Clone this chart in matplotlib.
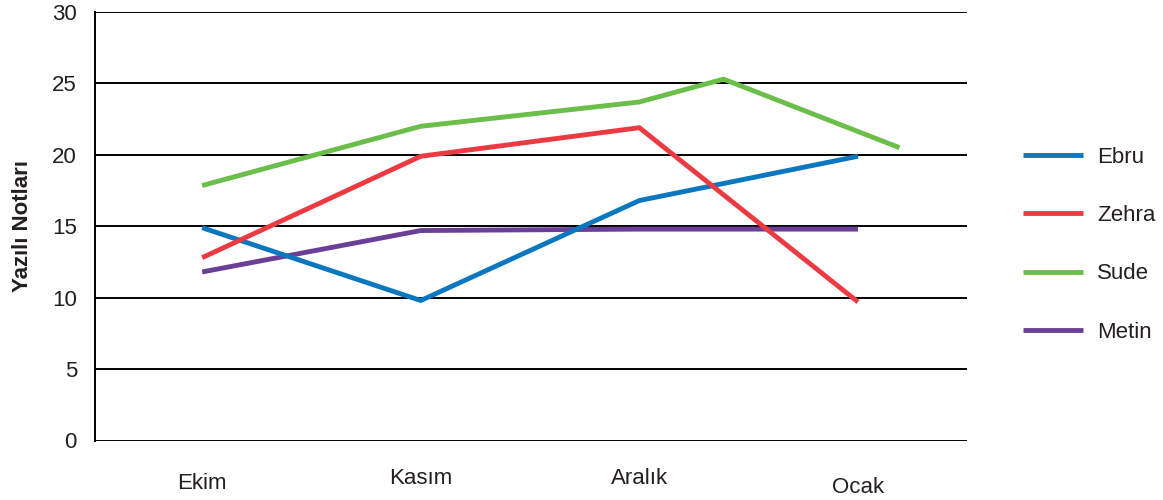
import matplotlib.pyplot as plt

months = ['Ekim', 'Kasım', 'Aralık', 'Ocak']
month_x = [0, 1, 2, 3]

ebru = [14.9, 9.8, 16.8, 19.9]
zehra = [12.8, 19.9, 21.9, 9.7]
sude_x = [0, 1, 2, 2.385, 3.19]
sude = [17.85, 22.0, 23.7, 25.3, 20.5]
metin = [11.8, 14.7, 14.8, 14.8]

yticks = [0, 5, 10, 15, 20, 25, 30]

plt.rcParams['font.family'] = ['Liberation Sans', 'DejaVu Sans']

fig = plt.figure(figsize=(11.63, 5), dpi=100)
ax = fig.add_axes([0.0817, 0.119, 0.75, 0.857])

lw = 3.5
ax.plot(month_x, ebru, color='#0a77c0', lw=lw, label='Ebru', zorder=4,
        solid_capstyle='butt')
ax.plot(month_x, zehra, color='#ec3a42', lw=lw, label='Zehra', zorder=5,
        solid_capstyle='butt')
ax.plot(sude_x, sude, color='#6cbe4a', lw=lw, label='Sude', zorder=5,
        solid_capstyle='butt')
ax.plot(month_x, metin, color='#6a3f98', lw=lw, label='Metin', zorder=3,
        solid_capstyle='butt')

ax.set_xlim(-0.49, 3.5)
ax.set_ylim(0, 30)
ax.set_yticks(yticks)
ax.set_xticks([])
for y in yticks:
    ax.axhline(y, color='black', lw=1.4, zorder=2)

for s in ['top', 'right', 'bottom']:
    ax.spines[s].set_visible(False)
ax.spines['left'].set_linewidth(1.4)
ax.tick_params(axis='y', length=0, pad=13, labelsize=16, labelcolor='#231f20')

# month labels sit at slightly different heights in the original
label_dy = [-0.1, -0.089, -0.089, -0.11]
for x, name, dy in zip(month_x, months, label_dy):
    ax.text(x, dy, name, transform=ax.get_xaxis_transform(), ha='center',
            va='center', fontsize=16, color='#231f20')

ax.set_ylabel('Yazılı Notları', fontsize=16, fontweight='bold', labelpad=14,
              color='#231f20')

ax.legend(loc='center left', bbox_to_anchor=(1.041, 0.457), frameon=False,
          fontsize=16, handlelength=2.7, handletextpad=0.63,
          labelspacing=1.68, labelcolor='#231f20')

fig.savefig('out.png', dpi=100)
